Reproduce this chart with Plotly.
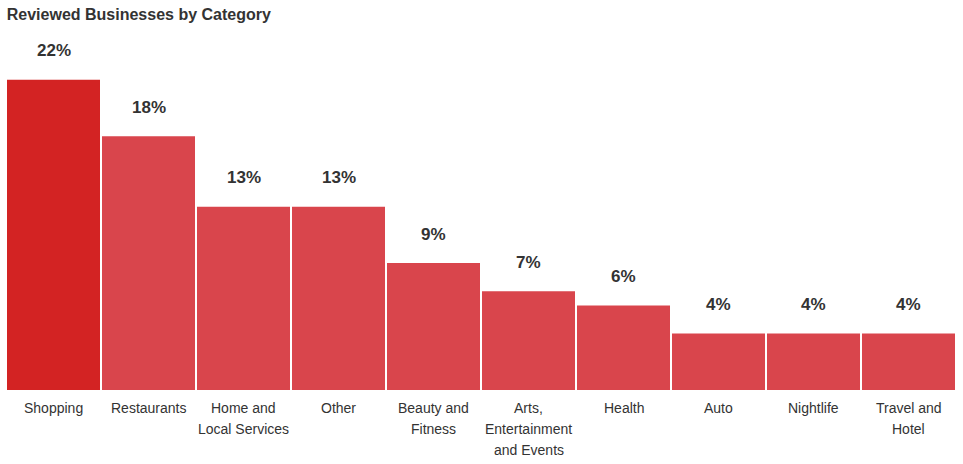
import plotly.graph_objects as go

categories = ["Shopping", "Restaurants", "Home and<br>Local Services", "Other",
              "Beauty and<br>Fitness", "Arts,<br>Entertainment<br>and Events",
              "Health", "Auto", "Nightlife", "Travel and<br>Hotel"]
values = [22, 18, 13, 13, 9, 7, 6, 4, 4, 4]
value_labels = ["22%", "18%", "13%", "13%", "9%", "7%", "6%", "4%", "4%", "4%"]

colors = ["#d32323"] + ["#d9454c"] * (len(values) - 1)

fig = go.Figure()
fig.add_trace(go.Bar(x=list(range(len(categories))), y=values,
                     marker=dict(color=colors, line=dict(width=0)),
                     hoverinfo="skip"))

annotations = []
for i, (v, lab) in enumerate(zip(values, value_labels)):
    annotations.append(dict(x=i, y=v, xref="x", yref="y", text=lab, showarrow=False,
                            yshift=29, yanchor="middle",
                            font=dict(family="Liberation Sans, Arial, sans-serif",
                                      size=17, color="#333333", weight="bold")))
for i, cat in enumerate(categories):
    for j, line in enumerate(cat.split("<br>")):
        annotations.append(dict(x=i, y=0, xref="x", yref="y", text=line, showarrow=False,
                                yshift=-(18 + 21 * j), yanchor="middle",
                                font=dict(family="Liberation Sans, Arial, sans-serif",
                                          size=14, color="#333333")))

fig.update_layout(
    width=963, height=464,
    margin=dict(l=6, r=7, t=38, b=74),
    paper_bgcolor="white", plot_bgcolor="white",
    bargap=0.021,
    showlegend=False,
    title=dict(text="<b>Reviewed Businesses by Category</b>", x=0.007, xanchor="left",
               y=1 - 14 / 464, yanchor="middle", yref="container",
               font=dict(family="Liberation Sans, Arial, sans-serif", size=16, color="#333333")),
    xaxis=dict(range=[-0.5, len(categories) - 0.5], showticklabels=False, showgrid=False,
               zeroline=False, showline=False, fixedrange=True),
    yaxis=dict(range=[0, 352 / 14.1], showticklabels=False, showgrid=False,
               zeroline=False, showline=False, fixedrange=True),
    annotations=annotations,
)

fig.write_html("out.html", config={"displayModeBar": False},
               post_script="document.body.style.margin='0';document.body.style.overflow='hidden';")
